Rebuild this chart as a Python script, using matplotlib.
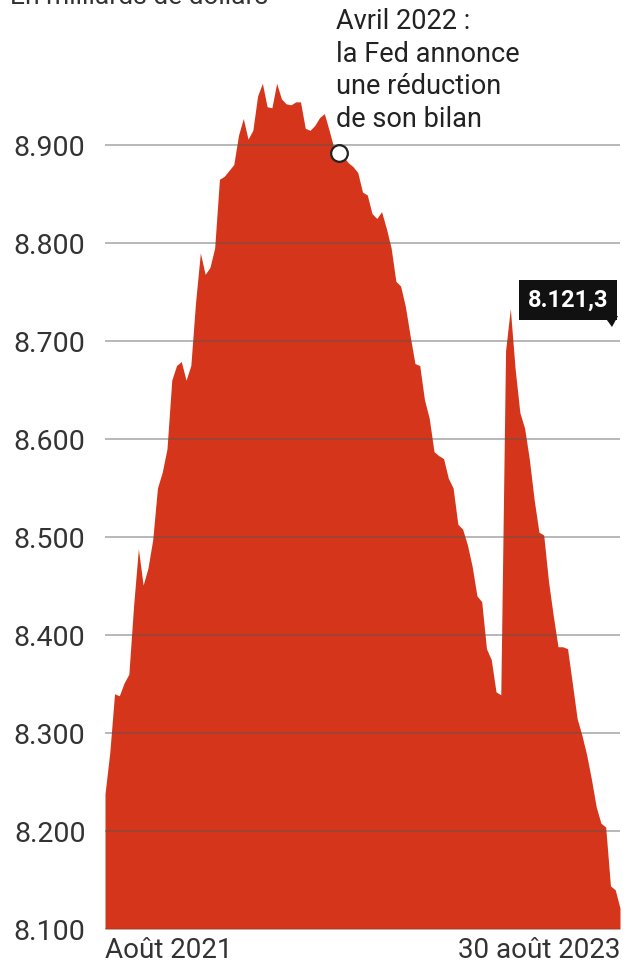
import matplotlib
matplotlib.use("Agg")
import matplotlib.pyplot as plt
from matplotlib.patches import Polygon
import numpy as np

# Weekly Fed balance-sheet total (billions of dollars), Aug 2021 -> 30 Aug 2023
values = [
    8238, 8280, 8340, 8338, 8351, 8360, 8430, 8488, 8451, 8468,
    8497, 8550, 8566, 8590, 8660, 8675, 8679, 8660, 8675, 8740,
    8790, 8768, 8775, 8795, 8865, 8868, 8874, 8880, 8910, 8927,
    8906, 8915, 8950, 8963, 8939, 8938, 8963, 8947, 8942, 8941,
    8944, 8944, 8917, 8915, 8920, 8928, 8932, 8915, 8897, 8892,
    8888, 8882, 8878, 8872, 8852, 8849, 8830, 8825, 8832, 8815,
    8795, 8761, 8756, 8735, 8705, 8677, 8675, 8640, 8621, 8587,
    8583, 8580, 8560, 8550, 8513, 8508, 8492, 8470, 8440, 8434,
    8386, 8375, 8342, 8339, 8690, 8733, 8672, 8627, 8611, 8579,
    8538, 8505, 8502, 8455, 8420, 8388, 8388, 8386, 8351, 8315,
    8298, 8278, 8253, 8225, 8208, 8204, 8144, 8140, 8121.3,
]
weeks = list(range(len(values)))
y_ticks = [8100, 8200, 8300, 8400, 8500, 8600, 8700, 8800, 8900]
y_tick_labels = ["8.100", "8.200", "8.300", "8.400", "8.500", "8.600", "8.700", "8.800", "8.900"]
x_tick_pos = [0, len(values) - 1]
x_tick_labels = ["Août 2021", "30 août 2023"]
annot_week = 49
annot_text = "Avril 2022 :\nla Fed annonce\nune réduction\nde son bilan"
last_label = "8.121,3"
unit_label = "En milliards de dollars"

plt.rcParams['font.family'] = ['Roboto', 'DejaVu Sans']

W, H = 627, 967
fig = plt.figure(figsize=(W / 100, H / 100), dpi=100)
fig.patch.set_facecolor("white")

def fx(px):
    return px / W

def fy(py):
    return 1 - py / H

ax = fig.add_axes([fx(105), fy(929), fx(620) - fx(105), fy(47) - fy(929)])
red = "#D5361B"
ax.fill_between(weeks, 8100, values, color=red, linewidth=0, zorder=1)
ax.set_xlim(0, len(values) - 1)
ax.set_ylim(8100, 9000)

ax.set_yticks(y_ticks)
ax.set_yticklabels(y_tick_labels)
ax.set_xticks(x_tick_pos)
ax.set_xticklabels(x_tick_labels)
for lbl, ha in zip(ax.get_xticklabels(), ["left", "right"]):
    lbl.set_ha(ha)
ax.tick_params(axis="y", length=0, pad=14, labelsize=20.5, labelcolor="#333333")
ax.tick_params(axis="x", length=0, pad=6, labelsize=20, labelcolor="#333333")
for s in ax.spines.values():
    s.set_visible(False)
ax.set_axisbelow(False)
ax.yaxis.grid(True, color="#555555", alpha=0.45, linewidth=1.3)
ax.xaxis.grid(False)

# Annotation marker
ax.plot([annot_week], [values[annot_week]], marker="o", markersize=12,
        markerfacecolor="white", markeredgecolor="#222222", markeredgewidth=1.6,
        zorder=5, clip_on=False)
fig.text(fx(336), fy(8), annot_text, ha="left", va="top", fontsize=19.5,
         color="#222222", linespacing=1.27)

# Unit label (cut off at top, as in the source)
fig.text(fx(10), fy(4), unit_label, ha="left", va="baseline", fontsize=19,
         color="#333333")

# Last value box with pointer
fig.text(fx(568), fy(300), last_label, ha="center", va="center", fontsize=17,
         fontweight="bold", color="white",
         bbox=dict(boxstyle="square,pad=0.35", facecolor="#111111", edgecolor="none"))
tri = Polygon([[fx(604), fy(316)], [fx(618), fy(316)], [fx(612), fy(327)]],
              closed=True, transform=fig.transFigure, facecolor="#111111",
              edgecolor="none")
fig.patches.append(tri)

fig.savefig("out.png", dpi=100, facecolor="white")
